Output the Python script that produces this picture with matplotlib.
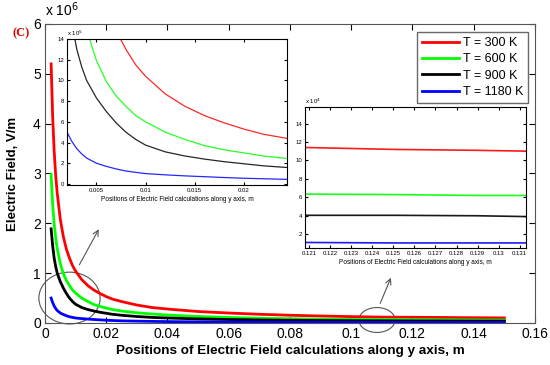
import matplotlib
matplotlib.use('Agg')
import matplotlib.pyplot as plt
from matplotlib.patches import Ellipse

plt.rcParams['font.family'] = ['Liberation Sans', 'DejaVu Sans']

# positions along y axis (m)
pos = [0.002, 0.0025, 0.003, 0.0035, 0.004, 0.005, 0.006, 0.007, 0.008, 0.009,
       0.010, 0.012, 0.014, 0.016, 0.018, 0.020, 0.022, 0.025, 0.030, 0.035,
       0.040, 0.050, 0.060, 0.070, 0.080, 0.090, 0.100, 0.110, 0.121, 0.125,
       0.129, 0.1316, 0.140, 0.150]

# electric field, V/m (in units of 1e5)
e300 = [52.0, 41.5, 34.5, 29.5, 26.0, 20.8, 17.3, 14.8, 13.0, 11.5,
        10.4, 8.7, 7.5, 6.6, 5.9, 5.3, 4.8, 4.3, 3.6, 3.1,
        2.8, 2.3, 2.0, 1.75, 1.55, 1.40, 1.28, 1.18, 1.14, 1.12,
        1.11, 1.10, 1.06, 1.02]
e600 = [29.8, 23.8, 19.9, 17.0, 14.9, 11.9, 9.9, 8.5, 7.5, 6.6,
        6.0, 5.0, 4.3, 3.7, 3.3, 3.0, 2.7, 2.4, 2.05, 1.8,
        1.6, 1.3, 1.1, 0.95, 0.85, 0.77, 0.71, 0.67, 0.635, 0.63,
        0.62, 0.62, 0.60, 0.58]
e900 = [18.9, 15.5, 13.0, 11.3, 10.0, 8.3, 7.0, 5.9, 5.0, 4.3,
        3.75, 3.1, 2.7, 2.4, 2.15, 1.95, 1.75, 1.55, 1.3, 1.12,
        1.0, 0.82, 0.70, 0.61, 0.55, 0.50, 0.46, 0.43, 0.405, 0.405,
        0.40, 0.39, 0.38, 0.37]
e1180 = [5.0, 4.1, 3.4, 2.9, 2.5, 2.0, 1.7, 1.45, 1.25, 1.12,
         1.0, 0.88, 0.78, 0.70, 0.62, 0.55, 0.50, 0.43, 0.37, 0.32,
         0.28, 0.23, 0.20, 0.17, 0.15, 0.14, 0.13, 0.12, 0.11, 0.105,
         0.105, 0.105, 0.10, 0.10]

series = [(e300, '#ff0000', 'T = 300 K'),
          (e600, '#00ff00', 'T = 600 K'),
          (e900, '#000000', 'T = 900 K'),
          (e1180, '#0000ff', 'T = 1180 K')]

fig = plt.figure(figsize=(5.5, 3.65), dpi=100)
ax = fig.add_axes([0.0818, 0.1151, 0.8909, 0.8192])

for E, c, lab in series:
    ax.plot(pos, [v / 10 for v in E], color=c, lw=2, label=lab)

ax.set_xlim(0, 0.16)
ax.set_ylim(0, 6)
ax.set_xticks([0, 0.02, 0.04, 0.06, 0.08, 0.1, 0.12, 0.14, 0.16])
ax.set_xticklabels(['0', '0.02', '0.04', '0.06', '0.08', '0.1', '0.12', '0.14', '0.16'])
ax.set_yticks([0, 1, 2, 3, 4, 5, 6])
ax.tick_params(direction='in', top=True, right=True, labelsize=10, length=4, pad=3)
ax.set_xlabel('Positions of Electric Field calculations along y axis, m',
              fontsize=9.7, fontweight='bold', labelpad=3)
ax.set_ylabel('Electric Field, V/m', fontsize=9.5, fontweight='bold', labelpad=10)
for s in ax.spines.values():
    s.set_color('#555555')
ax.text(0.0, 1.015, 'x 10$^6$', transform=ax.transAxes, fontsize=10, va='bottom')
fig.text(0.022, 0.91, '(C)', color='#e00000', fontsize=9, fontweight='bold',
         family='Liberation Serif', va='center')

leg = ax.legend(loc='upper right', fontsize=9, handlelength=3.0, fancybox=False,
                edgecolor='#444444', borderpad=0.4, labelspacing=0.35,
                handletextpad=0.3, borderaxespad=0, bbox_to_anchor=(0.986, 0.973))
leg.get_frame().set_linewidth(1.0)

# zoom ellipses and arrows
ax.add_patch(Ellipse((0.008, 0.5), 0.02, 1.04, fill=False, ec='#555555', lw=0.8, clip_on=False))
ax.annotate('', xy=(0.018, 1.93), xytext=(0.0108, 1.12),
            arrowprops=dict(arrowstyle='->', color='#555555', lw=0.8))
ax.add_patch(Ellipse((0.1084, 0.06), 0.0118, 0.5, fill=False, ec='#555555', lw=0.8, clip_on=False))
ax.annotate('', xy=(0.1133, 0.96), xytext=(0.1091, 0.34),
            arrowprops=dict(arrowstyle='->', color='#555555', lw=0.8))

inset_lab = 'Positions of Electric Field calculations along y axis, m'

# inset 1: near field
a1 = fig.add_axes([0.1218, 0.4932, 0.4, 0.4])
for E, c, lab in series:
    a1.plot(pos, E, color=c, lw=0.9, alpha=0.85)
a1.set_xlim(0.002, 0.0244)
a1.set_ylim(-0.1, 14)
a1.set_xticks([0.005, 0.01, 0.015, 0.02])
a1.set_xticklabels(['0.005', '0.01', '0.015', '0.02'])
a1.set_yticks([0, 2, 4, 6, 8, 10, 12, 14])
a1.tick_params(direction='in', top=True, right=True, labelsize=4.3, length=2, pad=2)
a1.set_xlabel(inset_lab, fontsize=4.7, labelpad=2)
a1.text(0.0, 1.01, 'x 10$^5$', transform=a1.transAxes, fontsize=4.3, va='bottom')

# inset 2: far field
a2 = fig.add_axes([0.5545, 0.3205, 0.4018, 0.3863])
for E, c, lab in series:
    a2.plot(pos, [v * 10 for v in E], color=c, lw=1.2, alpha=0.9)
a2.set_xlim(0.1208, 0.1313)
a2.set_ylim(0.5, 15.8)
a2.set_xticks([0.121, 0.122, 0.123, 0.124, 0.125, 0.126, 0.127, 0.128, 0.129, 0.13, 0.131])
a2.set_xticklabels(['0.121', '0.122', '0.123', '0.124', '0.125', '0.126', '0.127',
                    '0.128', '0.129', '0.13', '0.131'])
a2.set_yticks([2, 4, 6, 8, 10, 12, 14])
a2.tick_params(direction='in', top=True, right=True, labelsize=4.3, length=2, pad=2)
a2.set_xlabel(inset_lab, fontsize=4.7, labelpad=2)
a2.text(0.0, 1.01, 'x 10$^4$', transform=a2.transAxes, fontsize=4.3, va='bottom')

fig.savefig('out.png', dpi=100)
